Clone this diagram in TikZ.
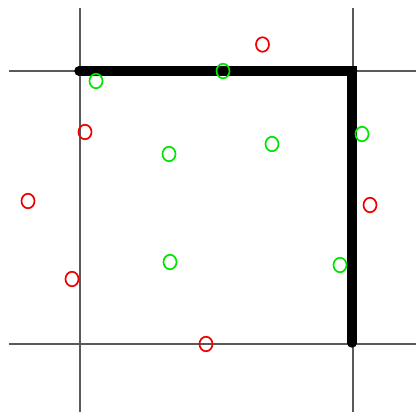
\documentclass[tikz,border=0pt]{standalone}
\usetikzlibrary{shapes.geometric}
\definecolor{ptgreen}{RGB}{0,230,0}
\definecolor{ptred}{RGB}{240,0,0}
\begin{document}
\begin{tikzpicture}[x=1pt,y=-1pt,
  gridline/.style={draw=black!65,line width=1.3pt},
  boundary/.style={draw=black,line width=9.5pt,line cap=round,line join=miter},
  ptshape/.style={shape=ellipse,inner sep=0pt,minimum width=13pt,minimum height=14.5pt},
  redpt/.style={draw=ptred,line width=1.7pt,ptshape},
  greenpt/.style={draw=ptgreen,line width=1.7pt,ptshape}]
\useasboundingbox (0,0) rectangle (416,412);
\fill[white] (0,0) rectangle (416,412);
% grid lines
\coordinate (v1t) at (80,8);   \coordinate (v1b) at (80,412);
\coordinate (v2t) at (353,8);  \coordinate (v2b) at (353,412);
\coordinate (h1l) at (9,71);   \coordinate (h1r) at (416,71);
\coordinate (h2l) at (9,344);  \coordinate (h2r) at (416,344);
\draw[gridline] (v1t) -- (v1b);
\draw[gridline] (v2t) -- (v2b);
\draw[gridline] (h1l) -- (h1r);
\draw[gridline] (h2l) -- (h2r);
% thick boundary
\coordinate (ba) at (79,71);
\coordinate (bb) at (352,71);
\coordinate (bc) at (352,343);
\draw[boundary] (ba) -- (bb) -- (bc);
% red points
\node[redpt] (r1) at (262.5,44.5) {};
\node[redpt] (r2) at (85,132) {};
\node[redpt] (r3) at (28,201) {};
\node[redpt] (r4) at (370,205) {};
\node[redpt] (r5) at (72,279) {};
\node[redpt] (r6) at (206,344) {};
% green points
\node[greenpt] (g1) at (96,81) {};
\node[greenpt] (g2) at (223,71) {};
\node[greenpt] (g3) at (169,154) {};
\node[greenpt] (g4) at (272,144) {};
\node[greenpt] (g5) at (362,134) {};
\node[greenpt] (g6) at (170,262) {};
\node[greenpt] (g7) at (340,265) {};
\end{tikzpicture}
\end{document}
